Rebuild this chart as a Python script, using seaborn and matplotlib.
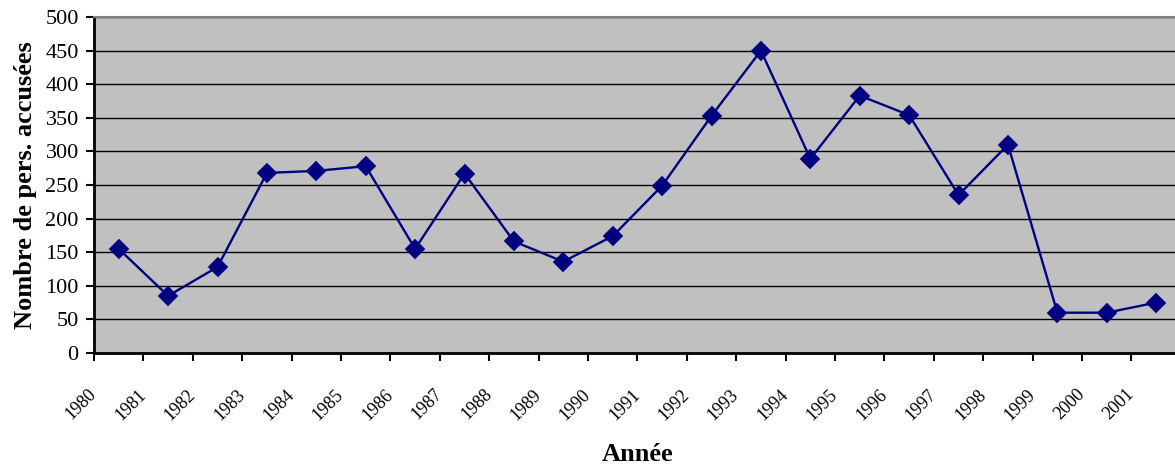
import numpy as np
import pandas as pd
import matplotlib
matplotlib.use('Agg')
import matplotlib.pyplot as plt
import matplotlib.transforms as mtransforms
import seaborn as sns

years = ['1980', '1981', '1982', '1983', '1984', '1985', '1986', '1987',
         '1988', '1989', '1990', '1991', '1992', '1993', '1994', '1995',
         '1996', '1997', '1998', '1999', '2000', '2001']
accused = [155, 85, 128, 268, 271, 278, 155, 267, 166, 136, 174, 249,
           353, 450, 289, 383, 354, 235, 310, 60, 60, 75]

df = pd.DataFrame({'annee': years, 'nombre': accused})

sns.set_style('white')
plt.rcParams['font.family'] = ['Liberation Serif', 'DejaVu Serif']
plt.rcParams['text.color'] = 'black'
plt.rcParams['axes.labelcolor'] = 'black'
plt.rcParams['xtick.color'] = 'black'
plt.rcParams['ytick.color'] = 'black'

fig = plt.figure(figsize=(11.75, 4.67), dpi=100)
ax = fig.add_axes([0.080, 0.2441, 0.925, 0.7195])

sns.pointplot(data=df, x='annee', y='nombre', color='#000080',
              marker='D', markersize=9, linewidth=1.7, ax=ax)

ax.set_facecolor('#C0C0C0')
ax.set_ylim(0, 500)
ax.set_yticks(np.arange(0, 501, 50))
ax.set_xlim(-0.5, len(years) - 0.5)
ax.yaxis.grid(True, color='black', linewidth=1)
ax.xaxis.grid(False)
ax.set_axisbelow(True)

# ticks sit between categories, labels on the ticks
ax.set_xticks(np.arange(len(years)) - 0.5)
ax.set_xticklabels(years, rotation=45, ha='right', va='center',
                   rotation_mode='anchor', fontsize=13)
offset = mtransforms.ScaledTranslation(5 / 100, 0, fig.dpi_scale_trans)
for lab in ax.get_xticklabels():
    lab.set_transform(lab.get_transform() + offset)

ax.tick_params(axis='x', direction='out', length=6, width=1.5,
               pad=22, bottom=True)
ax.tick_params(axis='y', direction='out', length=6, width=1.5,
               pad=5, left=True, labelsize=16)

ax.spines['left'].set_color('black')
ax.spines['left'].set_linewidth(2)
ax.spines['bottom'].set_color('black')
ax.spines['bottom'].set_linewidth(2)
ax.spines['top'].set_color('#808080')
ax.spines['top'].set_linewidth(1.5)
ax.spines['right'].set_visible(False)

ax.set_ylabel('Nombre de pers. accusées', fontsize=19, fontweight='bold',
              labelpad=6)
ax.set_xlabel('Année', fontsize=19, fontweight='bold', labelpad=14)

fig.savefig('out.png', dpi=100)
